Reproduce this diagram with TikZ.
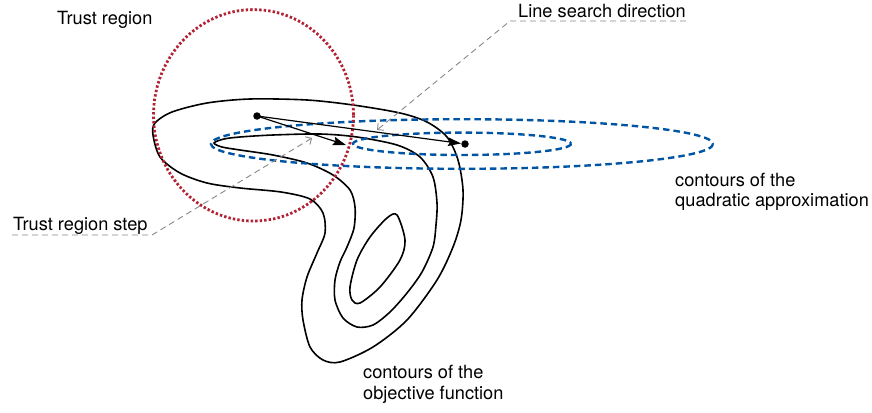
\documentclass[tikz,border=0pt]{standalone}
\usepackage{fontspec}
\setmainfont{TeX Gyre Heros}
\usetikzlibrary{arrows.meta}
\definecolor{trred}{RGB}{178,34,52}
\definecolor{qblue}{RGB}{0,84,164}
\definecolor{leadgray}{RGB}{135,135,135}
\begin{document}
\begin{tikzpicture}[x=1pt,y=-1pt,
  lbl/.style={font=\fontsize{18.2pt}{20.7pt}\selectfont, inner sep=0pt, anchor=base west, align=left},
  contour/.style={draw=black, line width=1.6pt},
  trust/.style={draw=trred, line width=2.8pt, dash pattern=on 2.4pt off 2.1pt},
  quad/.style={draw=qblue, line width=2.4pt, dash pattern=on 6.5pt off 4pt},
  leader/.style={draw=leadgray, line width=0.9pt, dash pattern=on 6pt off 4pt},
  leadtip/.style={-{Straight Barb[length=4.5pt,width=9pt]}},
  dot/.style={circle, fill=black, inner sep=0pt, minimum size=7.5pt},
  steparrow/.style={line width=1.2pt, -{Stealth[length=13pt,width=8.5pt,inset=2pt]}}
]
\useasboundingbox (0,0) rectangle (872,412);

% objective function contours
\draw[contour] plot[smooth cycle] coordinates {(153,135) (155,123) (172,112) (207,103) (250,99) (307,100) (353,105) (400,113) (427,122) (447,137) (458,160) (463,190) (461,220) (453,247) (437,280) (407,320) (373,347) (340,362) (323,360) (310,347) (303,320) (302,300) (307,277) (317,253) (325,233) (323,213) (310,199) (281,192) (240,188) (207,183) (180,173) (160,157)};
\draw[contour] plot[smooth cycle] coordinates {(214,143) (224,139) (240,137) (273,135) (320,134) (357,137) (397,145) (420,157) (433,177) (437,203) (436,225) (433,247) (422,272) (407,293) (390,312) (373,325) (357,327) (343,318) (335,300) (335,280) (340,262) (347,247) (354,228) (355,207) (350,190) (333,175) (307,163) (273,155) (240,150) (222,147)};
\draw[contour] plot[smooth cycle] coordinates {(397,215) (405,240) (400,260) (380,287) (360,303) (352,300) (350,287) (357,260) (370,237) (387,218)};

% quadratic approximation contours
\draw[quad] (462,143.8) ellipse [x radius=109, y radius=11.2];
\draw[quad] (462,144) ellipse [x radius=251, y radius=24.8];

% trust region
\draw[trust] (253.5,115.3) ellipse [x radius=100, y radius=105.7];

% points and steps
\node[dot] (x0) at (257,116) {};
\node[dot] (xq) at (465,144) {};
\coordinate (tstep) at (346,145);
\draw[steparrow] (x0.center) -- (tstep);
\draw[steparrow] (x0.center) -- (xq);

% labels
\node[lbl] (trlabel) at (57,25) {Trust region};
\node[lbl] (tslabel) at (13,230) {Trust region step};
\node[lbl] (lslabel) at (518,17.5) {Line search direction};
\node[lbl] (qlabel) at (675,206.7) {contours of the\\quadratic approximation};
\node[lbl] (olabel) at (363,399) {contours of the\\objective function};

% leaders
\coordinate (tsU) at (12,235);
\coordinate (tsC) at (152,235);
\coordinate (tsT) at (312,138);
\draw[leader, leadtip] (tsU) -- (tsC) -- (tsT);
\coordinate (lsU) at (686,21);
\coordinate (lsC) at (510,21);
\coordinate (lsT) at (377,130);
\draw[leader, leadtip] (lsU) -- (lsC) -- (lsT);
\end{tikzpicture}
\end{document}
